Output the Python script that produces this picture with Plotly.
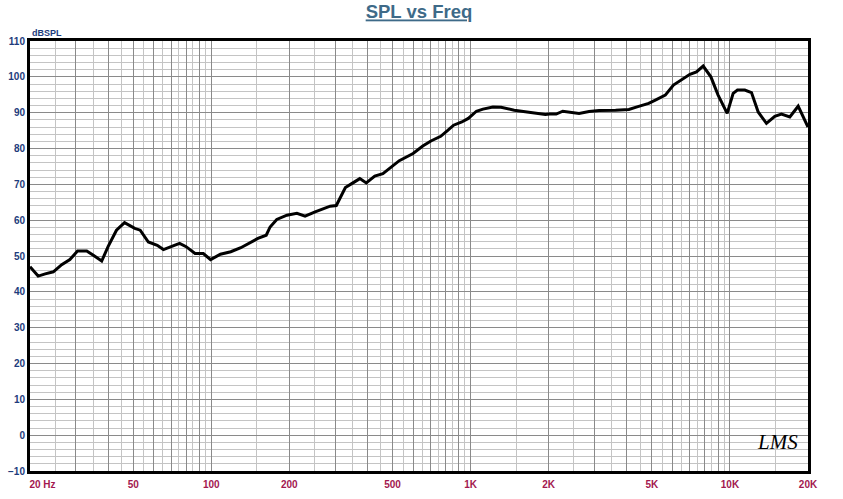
import plotly.graph_objects as go

# ---- data ----
freq_hz = [20, 21.5, 22.9, 24.6, 26.5, 28.5, 30.5, 33.1, 35.1, 37.8, 40.0, 43.1, 46.3, 50.7,
           53.2, 57.2, 61.9, 65.4, 70, 75.5, 80, 86.6, 93.2, 99.4, 108.5, 118.9, 130, 142.4,
           151.3, 162.9, 168.6, 178.9, 195.8, 213.9, 230, 251.5, 270.7, 287.4, 303.5, 314.7,
           329, 348, 374, 396, 427, 459, 487, 531, 600, 654, 703, 767, 812, 860, 925, 980,
           1053, 1116, 1219, 1311, 1473, 1609, 1808, 1943, 2017, 2138, 2267, 2400, 2620,
           2863, 3130, 3623, 4077, 4384, 4860, 5157, 5634, 6055, 6517, 7011, 7431, 7884,
           8443, 9003, 9759, 10290, 10690, 11410, 12110, 12850, 13830, 14890, 15800, 17020,
           18330, 20000]
spl_db = [47.0, 44.4, 45.0, 45.6, 47.6, 49.0, 51.4, 51.4, 50.2, 48.6, 52.6, 57.2, 59.3, 57.7,
          57.2, 53.9, 53.0, 51.8, 52.6, 53.5, 52.6, 50.7, 50.7, 49.0, 50.5, 51.2, 52.3, 53.9,
          54.9, 55.8, 58.1, 60.2, 61.4, 61.9, 61.1, 62.3, 63.3, 63.9, 64.1, 66.5,
          69.1, 70.2, 71.6, 70.4, 72.3, 73.0, 74.4, 76.6, 78.6, 80.7, 82.1, 83.4, 84.9, 86.5, 87.4, 88.4,
          90.4, 91.0, 91.6, 91.5, 90.7, 90.3, 89.8, 89.5, 89.6, 89.6, 90.4, 90.1, 89.8,
          90.3, 90.6, 90.7, 90.9, 91.6, 92.6, 93.5, 94.9, 97.7, 99.1, 100.7, 101.4, 103.0,
          100.0, 94.9, 89.8, 95.4, 96.3, 96.3, 95.6, 90.2, 87.0, 89.0, 89.6, 88.8,
          91.8, 86.0]

x_tick_labels = ["20 Hz", "50", "100", "200", "500", "1K", "2K", "5K", "10K", "20K"]
x_tick_freqs = [20, 50, 100, 200, 500, 1000, 2000, 5000, 10000, 20000]

# ---- grid positions (1..9 x 10^n major, half steps minor) ----
major_x = []
minor_x = []
for decade in [10, 100, 1000, 10000]:
    for m in range(1, 10):
        f = m * decade
        if 20 <= f <= 20000:
            major_x.append(f)
        fh = (m + 0.5) * decade
        if 20 <= fh <= 20000:
            minor_x.append(fh)

label_map = dict(zip(x_tick_freqs, x_tick_labels))
nb = "\u00a0"
tick_text = []
for f in major_x:
    t = label_map.get(f, "")
    if f == 20:
        t = nb * 9 + t
    tick_text.append(t)

fig = go.Figure()
fig.add_trace(go.Scatter(x=freq_hz, y=spl_db, mode="lines",
                         line=dict(color="black", width=3), showlegend=False,
                         hoverinfo="skip"))

fig.update_layout(
    width=843, height=499,
    margin=dict(l=30, r=35, t=41, b=28, autoexpand=False),
    paper_bgcolor="white", plot_bgcolor="white",
    font=dict(family="Liberation Sans, Arial, sans-serif"),
    title=dict(text="<b><u>SPL vs Freq</u></b>", x=0.497, xanchor="center",
               y=1 - 12 / 499, yanchor="middle", automargin=False,
               font=dict(size=18.5, color="#3e6a88")),
    xaxis=dict(type="log", range=[1.30103, 4.30103], automargin=False,
               tickmode="array", tickvals=major_x, ticktext=tick_text,
               showgrid=True, gridcolor="#8a8a8a", gridwidth=1,
               minor=dict(tickmode="array", tickvals=minor_x, showgrid=True,
                          gridcolor="#c4c4c4", gridwidth=1),
               showline=True, linecolor="black", linewidth=3, mirror=True,
               ticks="", zeroline=False,
               tickfont=dict(size=10, color="#a3184f", family="Liberation Sans, Arial",
                             weight="bold"),
               tickangle=0, ticklabelstandoff=2),
    yaxis=dict(range=[-10, 110], tickmode="linear", tick0=-10, dtick=10, automargin=False,
               showgrid=True, gridcolor="#8a8a8a", gridwidth=1,
               minor=dict(dtick=2, tick0=0, showgrid=True, gridcolor="#c4c4c4", gridwidth=1),
               showline=True, linecolor="black", linewidth=3, mirror=True,
               ticks="", zeroline=False,
               tickfont=dict(size=10, color="#1e3c7c", family="Liberation Sans, Arial",
                             weight="bold"),
               ticklabelstandoff=0),
)

fig.add_annotation(text="<b>dBSPL</b>", xref="paper", yref="paper", x=0, y=1,
                   xanchor="left", yanchor="bottom", yshift=1, xshift=0, showarrow=False,
                   font=dict(size=9, color="#1e3c7c", family="Liberation Sans, Arial"))
fig.add_annotation(text="<i>LMS</i>", xref="paper", yref="paper", x=0.99, y=0.035,
                   xanchor="right", yanchor="bottom", showarrow=False,
                   font=dict(size=21, color="black", family="Liberation Serif, serif"))

fig.write_html("out.html", config={"displayModeBar": False},
               post_script="document.body.style.margin='0';document.body.style.overflow='hidden';")
